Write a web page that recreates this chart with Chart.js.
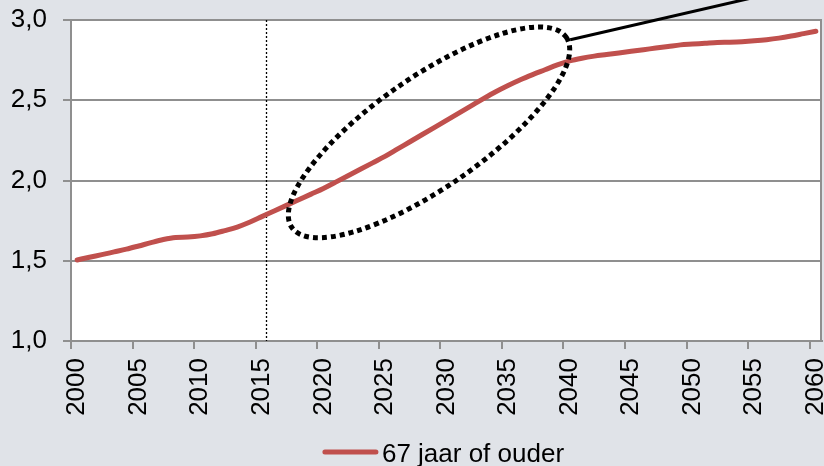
<!DOCTYPE html>
<html><head><meta charset="utf-8">
<script src="https://cdn.jsdelivr.net/npm/chart.js@4/dist/chart.umd.min.js"></script>
<style>html,body{margin:0;padding:0;background:#e0e3e8;overflow:hidden}</style>
</head><body>
<canvas id="c" width="824" height="466" style="display:block;width:824px;height:466px"></canvas>
<script>
const years = ['2000','2001','2002','2003','2004','2005','2006','2007','2008','2009',
  '2010','2011','2012','2013','2014','2015','2016','2017','2018','2019',
  '2020','2021','2022','2023','2024','2025','2026','2027','2028','2029',
  '2030','2031','2032','2033','2034','2035','2036','2037','2038','2039',
  '2040','2041','2042','2043','2044','2045','2046','2047','2048','2049',
  '2050','2051','2052','2053','2054','2055','2056','2057','2058','2059','2060'];
const seriesLabel = '67 jaar of ouder';
const values = [1.505,1.522,1.538,1.555,1.572,1.592,1.613,1.632,1.645,1.648,
  1.655,1.668,1.688,1.71,1.74,1.775,1.81,1.845,1.88,1.915,
  1.95,1.99,2.03,2.07,2.11,2.15,2.195,2.24,2.285,2.33,
  2.375,2.42,2.465,2.51,2.553,2.592,2.628,2.66,2.69,2.72,
  2.745,2.762,2.775,2.785,2.795,2.805,2.815,2.825,2.835,2.845,
  2.85,2.855,2.86,2.862,2.865,2.87,2.877,2.887,2.9,2.915,2.93];
const shownYearLabels = ['2000','2005','2010','2015','2020','2025','2030','2035','2040','2045','2050','2055','2060'];
const yMin = 1.0, yMax = 3.0, yStep = 0.5;
// annotations (data coordinates: year, value)
const markerYear = 2015.3;
const ellipseCenter = [2028.58, 2.30];
const ellipseMajorEnd = [2039.72, 2.893];
const ellipseMinorRatio = 0.33;
const connectorStart = [2040.05, 2.877];
const connectorEnd = [2064, 3.30];

const RED = '#c0504d', GRID = '#8f8f8f', BG = '#e0e3e8';
const FONT = 'Liberation Sans, Arial, sans-serif';
const FS = 26;

function xPix(chart, yr) {
  const s = chart.scales.x;
  const p0 = s.getPixelForValue(0), p1 = s.getPixelForValue(1);
  return p0 + (yr - Number(years[0])) * (p1 - p0);
}
function yPix(chart, v) { return chart.scales.y.getPixelForValue(v); }

const annot = {
  id: 'annot',
  beforeDraw(chart) {
    const {ctx, chartArea: a} = chart;
    ctx.save();
    ctx.fillStyle = BG; ctx.fillRect(0, 0, chart.width, chart.height);
    ctx.fillStyle = '#ffffff'; ctx.fillRect(a.left, a.top, a.right - a.left, a.bottom - a.top);
    ctx.restore();
  },
  beforeDatasetsDraw(chart) {
    const {ctx, chartArea: a} = chart;
    ctx.save();
    const x = Math.round(xPix(chart, markerYear)) + 0.5;
    ctx.strokeStyle = '#000'; ctx.lineWidth = 1.3; ctx.setLineDash([2, 2]);
    ctx.beginPath(); ctx.moveTo(x, a.top); ctx.lineTo(x, a.bottom); ctx.stroke();
    ctx.setLineDash([]); ctx.strokeStyle = GRID; ctx.lineWidth = 2;
    ctx.beginPath(); ctx.moveTo(a.right - 1, a.top); ctx.lineTo(a.right - 1, a.bottom); ctx.stroke();
    ctx.restore();
  },
  afterDatasetsDraw(chart) {
    const {ctx} = chart;
    ctx.save();
    const cx = xPix(chart, ellipseCenter[0]), cy = yPix(chart, ellipseCenter[1]);
    const ex = xPix(chart, ellipseMajorEnd[0]), ey = yPix(chart, ellipseMajorEnd[1]);
    const ra = Math.hypot(ex - cx, ey - cy), ang = Math.atan2(ey - cy, ex - cx);
    ctx.strokeStyle = '#000'; ctx.lineWidth = 5; ctx.setLineDash([5, 4]); ctx.lineCap = 'butt';
    ctx.beginPath(); ctx.ellipse(cx, cy, ra, ra * ellipseMinorRatio, ang, 0, Math.PI * 2); ctx.stroke();
    ctx.setLineDash([]); ctx.lineWidth = 3;
    ctx.beginPath();
    ctx.moveTo(xPix(chart, connectorStart[0]), yPix(chart, connectorStart[1]));
    ctx.lineTo(xPix(chart, connectorEnd[0]), yPix(chart, connectorEnd[1]));
    ctx.stroke();
    ctx.restore();
  },
  afterDraw(chart) {
    const {ctx, chartArea: a} = chart;
    ctx.save();
    const label = chart.data.datasets[0].label;
    ctx.font = FS + 'px ' + FONT;
    const tw = ctx.measureText(label).width;
    const boxW = 55, gap = 4;
    const total = boxW + gap + tw;
    const x0 = (a.left + a.right) / 2 - total / 2 - 3;
    const yc = 452;
    ctx.strokeStyle = RED; ctx.lineWidth = 5; ctx.lineCap = 'round';
    ctx.beginPath(); ctx.moveTo(x0 + 2, yc); ctx.lineTo(x0 + boxW - 2, yc); ctx.stroke();
    ctx.fillStyle = '#000'; ctx.textBaseline = 'alphabetic'; ctx.textAlign = 'left';
    ctx.fillText(label, x0 + boxW + gap, yc + 10);
    ctx.restore();
  }
};

new Chart(document.getElementById('c'), {
  type: 'line',
  data: {
    labels: years,
    datasets: [{
      label: seriesLabel,
      data: values,
      borderColor: RED,
      backgroundColor: RED,
      borderWidth: 5,
      pointRadius: 0,
      cubicInterpolationMode: 'monotone',
      borderCapStyle: 'round',
      fill: false
    }]
  },
  options: {
    responsive: false,
    animation: false,
    devicePixelRatio: 1,
    layout: {padding: {top: 20, right: 2, left: 0, bottom: 0}},
    plugins: {legend: {display: false}, tooltip: {enabled: false}},
    scales: {
      x: {
        type: 'category',
        offset: true,
        grid: {
          offset: true,
          drawOnChartArea: false,
          drawTicks: true,
          tickLength: 8,
          lineWidth: 2,
          tickColor: (c) => (c.index !== undefined && shownYearLabels.includes(years[c.index])) ? GRID : 'rgba(0,0,0,0)'
        },
        border: {color: GRID, width: 2},
        ticks: {
          autoSkip: false,
          maxRotation: 90,
          minRotation: 90,
          padding: 9,
          color: '#000',
          font: {family: FONT, size: FS},
          callback: (v, i) => shownYearLabels.includes(years[i]) ? years[i] : ''
        },
        afterFit: (s) => { s.height = 125; s.paddingLeft = 0; s.paddingRight = 0; }
      },
      y: {
        min: yMin, max: yMax,
        grid: {color: GRID, lineWidth: 2, tickLength: 8, tickColor: GRID},
        border: {color: GRID, width: 2},
        ticks: {
          stepSize: yStep,
          padding: 16,
          color: '#000',
          font: {family: FONT, size: FS},
          callback: (v) => Number(v).toFixed(1).replace('.', ',')
        },
        afterFit: (s) => { s.width = 71; s.paddingTop = 0; s.paddingBottom = 0; }
      }
    }
  },
  plugins: [annot]
});
</script>
</body></html>
